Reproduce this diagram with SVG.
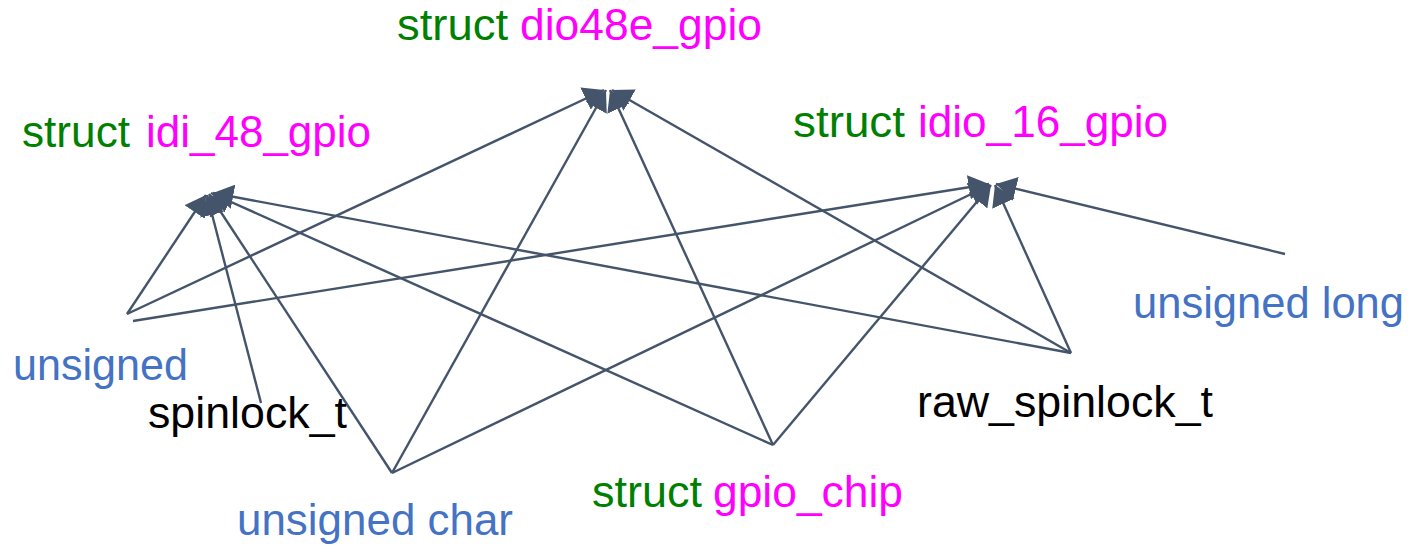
<svg xmlns="http://www.w3.org/2000/svg" width="1409" height="548" viewBox="0 0 1409 548">
  <style>
    .lbl { font-family: "Liberation Sans", Arial, sans-serif; font-size: 44px; }
    .kw { fill: #008000; }
    .nm { fill: #FF00FF; }
    .ty { fill: #4472C4; }
    .bk { fill: #000000; }
    .edge { stroke: #44546A; stroke-width: 2.4; fill: none; marker-end: url(#arrow); }
  </style>
  <defs>
    <!-- wide filled arrowhead, about 20 x 24 px at this stroke width -->
    <marker id="arrow" viewBox="0 0 10 12" refX="10" refY="6" markerWidth="8.5" markerHeight="10.2" markerUnits="strokeWidth" orient="auto">
      <path d="M0,0 L10,6 L0,12 z" fill="#44546A"/>
    </marker>
  </defs>

  <rect width="1409" height="548" fill="#FFFFFF"/>

  <!-- connectors: member type -> containing struct -->
  <g id="connectors">
    <!-- into struct dio48e_gpio -->
    <line class="edge" x1="127" y1="314" x2="604" y2="90"/>
    <line class="edge" x1="392" y1="473" x2="606" y2="90"/>
    <line class="edge" x1="773" y1="445" x2="610" y2="90"/>
    <line class="edge" x1="1071" y1="353" x2="612" y2="90"/>
    <!-- into struct idi_48_gpio -->
    <line class="edge" x1="127" y1="314" x2="206" y2="195"/>
    <line class="edge" x1="261" y1="403" x2="207" y2="195"/>
    <line class="edge" x1="392" y1="473" x2="209" y2="194"/>
    <line class="edge" x1="773" y1="445" x2="211" y2="193"/>
    <line class="edge" x1="1071" y1="353" x2="213" y2="193"/>
    <!-- into struct idio_16_gpio -->
    <line class="edge" x1="133" y1="321" x2="989" y2="184"/>
    <line class="edge" x1="392" y1="473" x2="990" y2="185"/>
    <line class="edge" x1="773" y1="445" x2="991" y2="185"/>
    <line class="edge" x1="1071" y1="353" x2="995" y2="185"/>
    <line class="edge" x1="1285" y1="254" x2="996" y2="184"/>
  </g>

  <g id="dio48e_gpio">
    <text class="lbl kw" x="397" y="40" textLength="111" lengthAdjust="spacingAndGlyphs">struct</text>
    <text class="lbl nm" x="520" y="40" textLength="242" lengthAdjust="spacingAndGlyphs">dio48e_gpio</text>
  </g>
  <g id="idi_48_gpio">
    <text class="lbl kw" x="22" y="147" textLength="108" lengthAdjust="spacingAndGlyphs">struct</text>
    <text class="lbl nm" x="146" y="147" textLength="225" lengthAdjust="spacingAndGlyphs">idi_48_gpio</text>
  </g>
  <g id="idio_16_gpio">
    <text class="lbl kw" x="793" y="137" textLength="112" lengthAdjust="spacingAndGlyphs">struct</text>
    <text class="lbl nm" x="918" y="137" textLength="250" lengthAdjust="spacingAndGlyphs">idio_16_gpio</text>
  </g>
  <g id="gpio_chip">
    <text class="lbl kw" x="592" y="507" textLength="110" lengthAdjust="spacingAndGlyphs">struct</text>
    <text class="lbl nm" x="713" y="507" textLength="190" lengthAdjust="spacingAndGlyphs">gpio_chip</text>
  </g>
  <g id="unsigned">
    <text class="lbl ty" x="13" y="380" textLength="175" lengthAdjust="spacingAndGlyphs">unsigned</text>
  </g>
  <g id="spinlock_t">
    <text class="lbl bk" x="148" y="428" textLength="199" lengthAdjust="spacingAndGlyphs">spinlock_t</text>
  </g>
  <g id="unsigned_char">
    <text class="lbl ty" x="237" y="535" textLength="276" lengthAdjust="spacingAndGlyphs">unsigned char</text>
  </g>
  <g id="raw_spinlock_t">
    <text class="lbl bk" x="917" y="417" textLength="296" lengthAdjust="spacingAndGlyphs">raw_spinlock_t</text>
  </g>
  <g id="unsigned_long">
    <text class="lbl ty" x="1133" y="318" textLength="271" lengthAdjust="spacingAndGlyphs">unsigned long</text>
  </g>
</svg>
